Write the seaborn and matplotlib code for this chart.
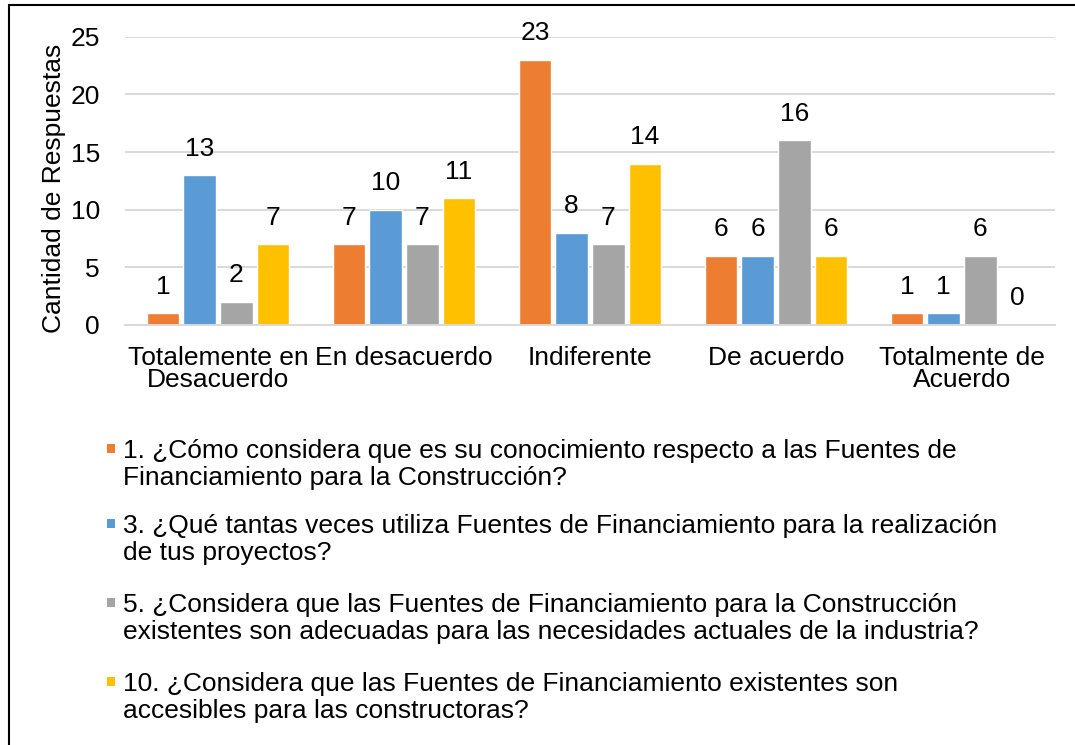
import matplotlib
matplotlib.use("Agg")
import numpy as np
import pandas as pd
import seaborn as sns
import matplotlib.pyplot as plt
from matplotlib.patches import Rectangle
from matplotlib.lines import Line2D

# -----------------------------
# Data
# -----------------------------
categorias = ["Totalemente en\nDesacuerdo", "En desacuerdo", "Indiferente",
              "De acuerdo", "Totalmente de\nAcuerdo"]
preguntas = [
    "1. ¿Cómo considera que es su conocimiento respecto a las Fuentes de\n"
    "Financiamiento para la Construcción?",
    "3. ¿Qué tantas veces utiliza Fuentes de Financiamiento para la realización\n"
    "de tus proyectos?",
    "5. ¿Considera que las Fuentes de Financiamiento para la Construcción\n"
    "existentes son adecuadas para las necesidades actuales de la industria?",
    "10. ¿Considera que las Fuentes de Financiamiento existentes son\n"
    "accesibles para las constructoras?",
]
p1 = [1, 7, 23, 6, 1]
p3 = [13, 10, 8, 6, 1]
p5 = [2, 7, 7, 16, 6]
p10 = [7, 11, 14, 6, 0]
colores = ["#ED7D31", "#5B9BD5", "#A5A5A5", "#FFC000"]

rows = []
for preg, vals in zip(preguntas, [p1, p3, p5, p10]):
    for cat, v in zip(categorias, vals):
        rows.append({"categoria": cat, "pregunta": preg, "respuestas": v})
df = pd.DataFrame(rows)

# -----------------------------
# Style
# -----------------------------
sns.set_style("white")
plt.rcParams["font.family"] = ["Liberation Sans", "DejaVu Sans"]
FS = 19
GRID = "#D9D9D9"

W, H = 1075, 745
fig = plt.figure(figsize=(W / 100, H / 100), dpi=100)
ax = fig.add_axes([125 / W, 1 - 325 / H, 930 / W, 288.3 / H])

sns.barplot(data=df, x="categoria", y="respuestas", hue="pregunta",
            order=categorias, hue_order=preguntas, palette=colores,
            width=0.79, gap=0.11, saturation=1, legend=False, ax=ax)

# value labels on top of each bar
for c in ax.containers:
    ax.bar_label(c, padding=10.5, fontsize=FS, color="black")

ax.set_ylim(0, 25)
ax.set_xlim(-0.5, len(categorias) - 0.5)
ax.set_yticks(np.arange(0, 26, 5))
ax.yaxis.grid(True, color=GRID, lw=1.4)
ax.set_axisbelow(True)
for s in ["left", "top", "right"]:
    ax.spines[s].set_visible(False)
ax.spines["bottom"].set_color(GRID)
ax.spines["bottom"].set_linewidth(1.4)

ax.tick_params(axis="y", length=0, pad=18, labelsize=FS, labelcolor="black")
ax.tick_params(axis="x", which="major", length=0, pad=15, labelsize=FS,
               labelcolor="black")
# separator ticks between categories
ax.set_xticks(np.arange(-0.5, len(categorias), 1), minor=True)
ax.tick_params(axis="x", which="minor", length=8, width=1.4, color=GRID)
for t in ax.get_xticklabels():
    t.set_linespacing(0.92)

ax.set_xlabel("")
ax.set_ylabel("Cantidad de Respuestas", fontsize=FS, color="black")
ax.yaxis.set_label_coords((66 - 125) / 930, (325 - 188) / 288.3)

# -----------------------------
# Legend (below the plot)
# -----------------------------
baselines = [457, 532, 611, 690]
LINE = 28
for preg, col, yb in zip(preguntas, colores, baselines):
    fig.add_artist(Rectangle((107 / W, 1 - (yb - 4) / H), 8 / W, 9 / H,
                             transform=fig.transFigure, color=col, lw=0))
    n_lines = preg.count("\n")
    fig.text(123 / W, 1 - (yb + n_lines * LINE) / H, preg, fontsize=FS,
             va="baseline", ha="left", linespacing=1.18, color="black")

# frame (top and left edges only visible)
fig.add_artist(Line2D([9 / W, 9 / W], [0, 1 - 5 / H], transform=fig.transFigure,
                      color="black", lw=1.5))
fig.add_artist(Line2D([9 / W, 1], [1 - 5 / H, 1 - 5 / H], transform=fig.transFigure,
                      color="black", lw=1.5))

fig.savefig("out.png", dpi=100)
